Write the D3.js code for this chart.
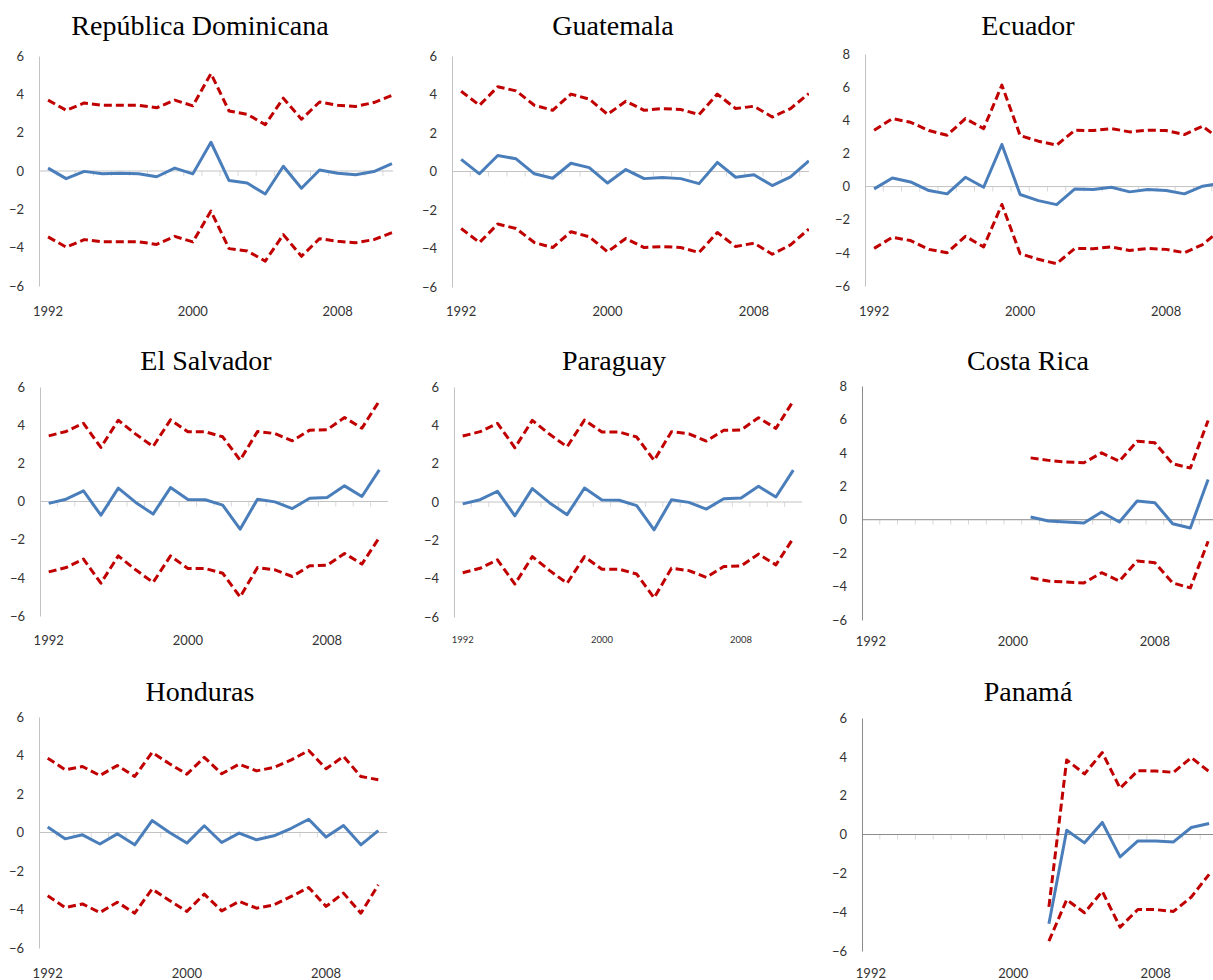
<!DOCTYPE html>
<html>
<head>
<meta charset="utf-8">
<script src="https://cdn.jsdelivr.net/npm/d3@7"></script>
<style>
  html, body { margin: 0; padding: 0; background: #fff; }
  svg { display: block; }
</style>
</head>
<body>
<svg id="chart" width="1213" height="980"></svg>
<script>
// ---------- DATA ----------
const years = d3.range(1992, 2012); // 1992..2011
const xTickLabels = [1992, 2000, 2008];

const titles = ["República Dominicana", "Guatemala", "Ecuador", "El Salvador", "Paraguay", "Costa Rica", "Honduras", "Panamá"];

// República Dominicana
const domCentral = [0.15, -0.4, -0.02, -0.14, -0.12, -0.14, -0.3, 0.15, -0.15, 1.5, -0.5, -0.63, -1.2, 0.25, -0.9, 0.05, -0.12, -0.2, -0.03, 0.38];
const domUpper   = [3.7, 3.17, 3.55, 3.43, 3.43, 3.43, 3.3, 3.7, 3.4, 5.08, 3.13, 2.96, 2.42, 3.8, 2.7, 3.6, 3.43, 3.37, 3.57, 3.95];
const domLower   = [-3.44, -3.97, -3.58, -3.69, -3.69, -3.69, -3.83, -3.41, -3.7, -2.09, -4.05, -4.17, -4.7, -3.32, -4.45, -3.53, -3.67, -3.74, -3.58, -3.22];

// Guatemala
const guaCentral = [0.63, -0.12, 0.83, 0.66, -0.12, -0.35, 0.43, 0.2, -0.6, 0.1, -0.37, -0.31, -0.37, -0.63, 0.47, -0.3, -0.17, -0.73, -0.28, 0.55];
const guaUpper   = [4.17, 3.44, 4.4, 4.19, 3.44, 3.18, 4.02, 3.76, 2.97, 3.65, 3.18, 3.27, 3.22, 2.96, 4.02, 3.27, 3.39, 2.83, 3.27, 4.05];
const guaLower   = [-2.96, -3.69, -2.73, -2.96, -3.69, -3.95, -3.13, -3.39, -4.17, -3.48, -3.95, -3.9, -3.95, -4.21, -3.17, -3.9, -3.72, -4.3, -3.81, -2.99];

// Ecuador
const ecuCentral = [-0.14, 0.52, 0.28, -0.24, -0.44, 0.56, -0.04, 2.54, -0.48, -0.85, -1.09, -0.14, -0.18, -0.04, -0.32, -0.18, -0.24, -0.44, 0.02, 0.2];
const ecuUpper   = [3.4, 4.1, 3.88, 3.38, 3.1, 4.1, 3.5, 6.12, 3.08, 2.74, 2.5, 3.4, 3.38, 3.5, 3.3, 3.4, 3.38, 3.14, 3.64, 2.8];
const ecuLower   = [-3.73, -3.06, -3.26, -3.79, -3.99, -3.0, -3.64, -1.08, -4.05, -4.39, -4.65, -3.73, -3.75, -3.64, -3.86, -3.73, -3.79, -3.99, -3.5, -2.6];

// El Salvador
const salCentral = [-0.1, 0.12, 0.56, -0.72, 0.7, -0.05, -0.66, 0.73, 0.1, 0.09, -0.19, -1.45, 0.12, -0.02, -0.37, 0.17, 0.21, 0.82, 0.26, 1.66];
const salUpper   = [3.44, 3.67, 4.1, 2.83, 4.26, 3.53, 2.88, 4.28, 3.65, 3.65, 3.39, 2.17, 3.67, 3.56, 3.18, 3.74, 3.76, 4.4, 3.84, 5.27];
const salLower   = [-3.69, -3.46, -3.02, -4.28, -2.85, -3.58, -4.24, -2.85, -3.51, -3.51, -3.76, -5.0, -3.46, -3.58, -3.93, -3.37, -3.34, -2.72, -3.28, -1.89];

// Paraguay
const parCentral = [-0.1, 0.12, 0.56, -0.72, 0.7, -0.05, -0.66, 0.73, 0.1, 0.09, -0.19, -1.45, 0.12, -0.02, -0.37, 0.17, 0.21, 0.82, 0.26, 1.66];
const parUpper   = [3.44, 3.67, 4.1, 2.83, 4.26, 3.53, 2.88, 4.28, 3.65, 3.65, 3.39, 2.17, 3.67, 3.56, 3.18, 3.74, 3.76, 4.4, 3.84, 5.27];
const parLower   = [-3.69, -3.46, -3.02, -4.28, -2.85, -3.58, -4.24, -2.85, -3.51, -3.51, -3.76, -5.0, -3.46, -3.58, -3.93, -3.37, -3.34, -2.72, -3.28, -1.89];

// Costa Rica (data from 2001)
const cosCentral = [null, null, null, null, null, null, null, null, null, 0.16, -0.08, -0.14, -0.2, 0.46, -0.14, 1.12, 1.02, -0.24, -0.5, 2.41];
const cosUpper   = [null, null, null, null, null, null, null, null, null, 3.7, 3.55, 3.45, 3.41, 4.0, 3.49, 4.7, 4.6, 3.35, 3.09, 5.94];
const cosLower   = [null, null, null, null, null, null, null, null, null, -3.47, -3.67, -3.73, -3.78, -3.17, -3.67, -2.47, -2.57, -3.78, -4.08, -1.29];

// Honduras
const honCentral = [0.28, -0.33, -0.12, -0.6, -0.07, -0.64, 0.62, 0.0, -0.55, 0.35, -0.52, -0.03, -0.38, -0.17, 0.22, 0.69, -0.24, 0.36, -0.64, 0.1];
const honUpper   = [3.86, 3.26, 3.43, 2.96, 3.48, 2.91, 4.16, 3.57, 3.03, 3.9, 3.05, 3.55, 3.2, 3.38, 3.77, 4.26, 3.31, 3.95, 2.91, 2.74];
const honLower   = [-3.29, -3.9, -3.71, -4.16, -3.62, -4.19, -2.94, -3.53, -4.1, -3.2, -4.07, -3.58, -3.93, -3.76, -3.32, -2.86, -3.84, -3.15, -4.19, -2.72];

// Panamá (data from 2002)
const panCentral = [null, null, null, null, null, null, null, null, null, null, -4.6, 0.22, -0.43, 0.62, -1.15, -0.33, -0.34, -0.38, 0.36, 0.57];
const panUpper   = [null, null, null, null, null, null, null, null, null, null, -3.73, 3.84, 3.12, 4.22, 2.38, 3.29, 3.27, 3.2, 3.96, 3.24];
const panLower   = [null, null, null, null, null, null, null, null, null, null, -5.49, -3.36, -4.03, -2.93, -4.77, -3.86, -3.87, -3.96, -3.22, -2.05];

const yDomains = [[-6, 6], [-6, 6], [-6, 8], [-6, 6], [-6, 6], [-6, 8], [-6, 6], [-6, 6]];

// ---------- LAYOUT ----------
const panels = [
  { x0: 39,  w: 18.1,  clipR: 393,  yTop: 56,  yBot: 286, titleX: 200,  titleY: 35,  labY: 316, xFont: 13, axisCol: "#c3c3c3", c: domCentral, u: domUpper, l: domLower },
  { x0: 452, w: 18.3,  clipR: 809,  yTop: 56,  yBot: 287, titleX: 613,  titleY: 35,  labY: 316, xFont: 13, axisCol: "#c3c3c3", c: guaCentral, u: guaUpper, l: guaLower },
  { x0: 865, w: 18.25, clipR: 1213, yTop: 54,  yBot: 286, titleX: 1028, titleY: 35,  labY: 316, xFont: 13, axisCol: "#c3c3c3", c: ecuCentral, u: ecuUpper, l: ecuLower },
  { x0: 40,  w: 17.4,  clipR: 389,  yTop: 387, yBot: 616, titleX: 206,  titleY: 370, labY: 645, xFont: 13, axisCol: "#c3c3c3", c: salCentral, u: salUpper, l: salLower },
  { x0: 454, w: 17.4,  clipR: 803,  yTop: 387, yBot: 617, titleX: 614,  titleY: 370, labY: 643, xFont: 9.5, axisCol: "#c3c3c3", c: parCentral, u: parUpper, l: parLower },
  { x0: 862, w: 17.75, clipR: 1213, yTop: 386, yBot: 620, titleX: 1028, titleY: 370, labY: 646, xFont: 13, axisCol: "#8c8c8c", c: cosCentral, u: cosUpper, l: cosLower },
  { x0: 39,  w: 17.4,  clipR: 388,  yTop: 717, yBot: 948, titleX: 200,  titleY: 701, labY: 978, xFont: 13, axisCol: "#c3c3c3", c: honCentral, u: honUpper, l: honLower },
  { x0: 862, w: 17.8,  clipR: 1213, yTop: 718, yBot: 951, titleX: 1028, titleY: 701, labY: 978, xFont: 13, axisCol: "#8c8c8c", c: panCentral, u: panUpper, l: panLower }
];

const svg = d3.select("#chart");
const defs = svg.append("defs");
const labelFont = "Lato, 'Open Sans', sans-serif";

panels.forEach((p, i) => {
  const dom = yDomains[i];
  const x = d3.scaleBand().domain(years).range([p.x0, p.x0 + years.length * p.w]).padding(0);
  const y = d3.scaleLinear().domain(dom).range([p.yBot, p.yTop]);
  const cx = yr => x(yr) + x.bandwidth() / 2;

  const g = svg.append("g");

  // title
  g.append("text")
    .attr("x", p.titleX).attr("y", p.titleY)
    .attr("text-anchor", "middle")
    .attr("font-family", "'Liberation Serif', 'Times New Roman', serif")
    .attr("font-size", 28)
    .attr("fill", "#000")
    .text(titles[i]);

  // y axis
  const yAxis = d3.axisLeft(y).tickValues(d3.range(dom[0], dom[1] + 1, 2)).tickSize(0).tickPadding(15).tickFormat(d3.format("d"));
  const ya = g.append("g").attr("transform", `translate(${p.x0},0)`).call(yAxis);
  ya.select(".domain").attr("stroke", p.axisCol).attr("stroke-width", 1);
  ya.selectAll("text").attr("font-family", labelFont).attr("font-size", 13).attr("fill", "#333");

  // clip
  const clipId = "clip" + i;
  defs.append("clipPath").attr("id", clipId)
    .append("rect").attr("x", p.x0).attr("y", p.yTop - 20).attr("width", p.clipR - p.x0).attr("height", p.yBot - p.yTop + 40);

  const plot = g.append("g").attr("clip-path", `url(#${clipId})`);

  // category tick marks below zero line
  plot.selectAll("line.ctick").data(years.slice(1)).enter().append("line")
    .attr("x1", d => x(d)).attr("x2", d => x(d))
    .attr("y1", y(0)).attr("y2", y(0) + 5)
    .attr("stroke", "#d9d9d9").attr("stroke-width", 1);

  // zero axis line
  plot.append("line")
    .attr("x1", p.x0).attr("x2", p.x0 + years.length * p.w)
    .attr("y1", y(0)).attr("y2", y(0))
    .attr("stroke", p.axisCol).attr("stroke-width", 1);

  const line = d3.line()
    .defined(d => d.v !== null)
    .x(d => cx(d.yr))
    .y(d => y(d.v));

  const mk = arr => years.map((yr, k) => ({ yr, v: arr[k] }));

  [p.u, p.l].forEach(arr => {
    plot.append("path")
      .datum(mk(arr))
      .attr("d", line)
      .attr("fill", "none")
      .attr("stroke", "#c00000")
      .attr("stroke-width", 3)
      .attr("stroke-dasharray", "8,4")
      .attr("stroke-linejoin", "round");
  });

  plot.append("path")
    .datum(mk(p.c))
    .attr("d", line)
    .attr("fill", "none")
    .attr("stroke", "#4a7ebb")
    .attr("stroke-width", 3)
    .attr("stroke-linejoin", "round");

  // x tick labels
  g.selectAll("text.xl").data(xTickLabels).enter().append("text")
    .attr("x", d => cx(d)).attr("y", p.labY)
    .attr("text-anchor", "middle")
    .attr("font-family", labelFont)
    .attr("font-size", p.xFont)
    .attr("fill", "#333")
    .text(d => d);
});
</script>
</body>
</html>
